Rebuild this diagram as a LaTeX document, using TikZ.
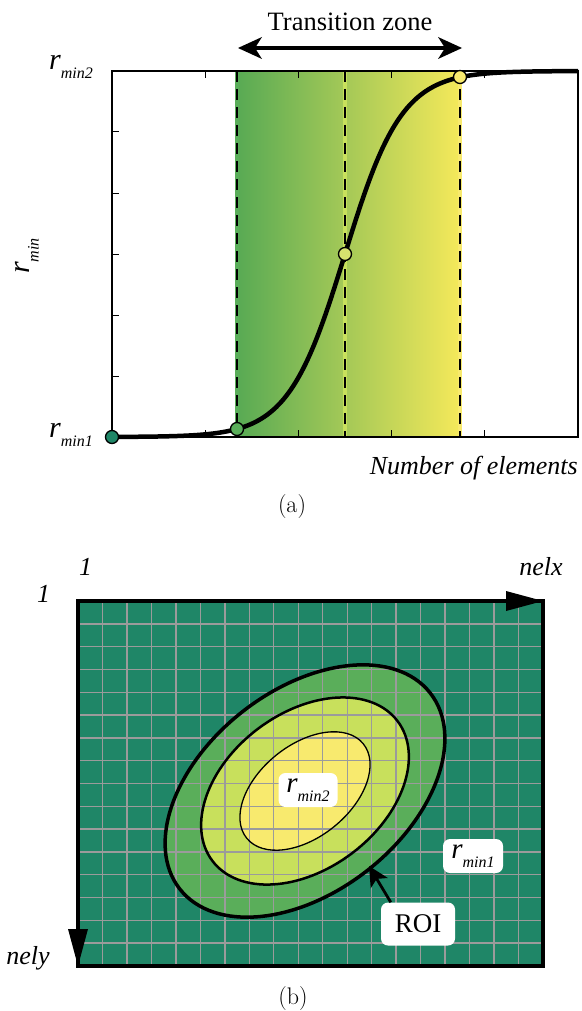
\documentclass[tikz,border=0pt]{standalone}
\usepackage{fontspec}
\newfontfamily\tms{Liberation Serif}
\usetikzlibrary{arrows.meta}
\definecolor{dgreen}{RGB}{31,134,103}
\definecolor{mgreen}{RGB}{90,174,90}
\definecolor{lgreen}{RGB}{200,224,92}
\definecolor{yel}{RGB}{248,234,110}
\definecolor{gl}{RGB}{88,170,84}
\definecolor{gr}{RGB}{245,233,90}
\definecolor{mid}{RGB}{214,226,110}
\definecolor{gridc}{RGB}{155,155,155}
\newcommand\rwith[4]{{\fontsize{#1pt}{#1pt}\selectfont\itshape r}\raisebox{-#3pt}{\fontsize{#2pt}{#2pt}\selectfont\itshape #4}}
\tikzset{
  marker/.style={circle, draw=black, line width=1.3pt, minimum size=13pt, inner sep=0pt},
  lbl/.style={fill=white, rounded corners=7pt, inner sep=0pt},
  ital/.style={font=\tms\fontsize{26pt}{26pt}\selectfont\itshape, inner sep=0pt},
  subcap/.style={font=\rmfamily\fontsize{24pt}{24pt}\selectfont, inner sep=0pt},
  bigtip/.style={-{Triangle[length=37pt,width=20pt,line width=0pt]}},
  twohead/.style={{Stealth[length=24pt,width=22pt,inset=7pt,line width=0pt]}-{Stealth[length=24pt,width=22pt,inset=7pt,line width=0pt]}}
}
\begin{document}
\begin{tikzpicture}[x=1pt,y=-1pt,font=\tms]
\useasboundingbox (0,0) rectangle (581,1011);
% ---------- (a) ----------
\shade[left color=gl, right color=gr] (237,71) rectangle (460,437);
\foreach \xx/\cc in {237/mgreen,345/lgreen,460/yel}{
  \draw[\cc, line width=4pt] (\xx,71) -- (\xx,437);
  \draw[black, line width=1.8pt, dash pattern=on 11pt off 7pt] (\xx,71) -- (\xx,437);
}
\draw[line width=1.2pt] (112,71) rectangle (578,437);
\foreach \xx in {205.2,298.4,391.6,484.8}{
  \draw[line width=1pt] (\xx,71) -- ++(0,7);
  \draw[line width=1pt] (\xx,437) -- ++(0,-7);
}
\foreach \yy in {132,193,254,315,376}{
  \draw[line width=1pt] (112,\yy) -- ++(7,0);
}
\draw[line width=4.5pt] plot[domain=112:578,samples=160,smooth] (\x,{254-183*tanh(0.0176*(\x-345))});
\node[marker, fill=dgreen] (p0) at (112,437) {};
\node[marker, fill=mgreen] (p1) at (237,429) {};
\node[marker, fill=mid] (p2) at (345,254) {};
\node[marker, fill=yel] (p3) at (460,77) {};
\coordinate (tzl) at (238,48);
\coordinate (tzr) at (462,48);
\draw[line width=3.5pt, twohead] (tzl) -- (tzr);
\node[anchor=base, inner sep=0pt, font=\tms\fontsize{26.5pt}{26.5pt}\selectfont] (tz) at (350,31) {Transition zone};
\node[anchor=base west, inner sep=0pt] (rtop) at (49,70) {\rwith{30}{16}{9}{min2}};
\node[anchor=base west, inner sep=0pt] (rbot) at (49,437) {\rwith{30}{16}{9}{min1}};
\node[rotate=90, inner sep=0pt] (ry) at (27,256) {\rwith{30}{16}{9}{min}};
\node[ital, anchor=base east] (nel) at (578,474) {Number of elements};
\node[subcap] (capa) at (292,507) {(a)};
% ---------- (b) ----------
\fill[dgreen] (78,601) rectangle (543,966);
\begin{scope}[shift={(305,791)}]
  \fill[mgreen, rotate=38] (0,0) ellipse [x radius=159pt, y radius=101pt];
  \fill[lgreen, rotate=37] (0,0) ellipse [x radius=116pt, y radius=78pt];
  \fill[yel, rotate=39] (0,0) ellipse [x radius=75pt, y radius=46pt];
\end{scope}
\foreach \i in {1,...,18}{
  \draw[gridc, line width=1.4pt] ({78+\i*24.474},601) -- ++(0,365);
}
\foreach \j in {1,...,15}{
  \draw[gridc, line width=1.4pt] (78,{601+\j*22.8125}) -- ++(465,0);
}
\begin{scope}[shift={(305,791)}]
  \draw[line width=3.5pt, rotate=38] (0,0) ellipse [x radius=159pt, y radius=101pt];
  \draw[line width=2.5pt, rotate=37] (0,0) ellipse [x radius=116pt, y radius=78pt];
  \draw[line width=1.3pt, rotate=39] (0,0) ellipse [x radius=75pt, y radius=46pt];
\end{scope}
\node[lbl, minimum width=59pt, minimum height=34pt] (r2) at (308,790) {\rwith{29}{16}{9}{min2}};
\node[lbl, minimum width=60pt, minimum height=34pt] (r1) at (473,856) {\rwith{29}{16}{9}{min1}};
\node[lbl, minimum width=74pt, minimum height=43pt, font=\tms\fontsize{27pt}{27pt}\selectfont] (roi) at (418,924) {ROI};
\coordinate (roitip) at (369,866);
\draw[line width=2.8pt, -{Stealth[length=20pt,width=20pt,inset=5pt,line width=0pt]}] ([xshift=10pt]roi.north west) -- (roitip);
\draw[line width=3.5pt] (78,601) rectangle (543,966);
\coordinate (o) at (78,601);
\coordinate (ex) at (543,601);
\coordinate (ey) at (78,966);
\draw[line width=3.5pt, bigtip] (o) -- (ex);
\draw[line width=3.5pt, bigtip] (o) -- (ey);
\node[ital, anchor=base] (one1) at (85.5,575) {1};
\node[ital, anchor=base] (one2) at (43.5,602) {1};
\node[ital, anchor=base] (nelx) at (541,575) {nelx};
\node[ital, anchor=base] (nely) at (28,964) {nely};
\node[subcap] (capb) at (293,998) {(b)};
\end{tikzpicture}
\end{document}
